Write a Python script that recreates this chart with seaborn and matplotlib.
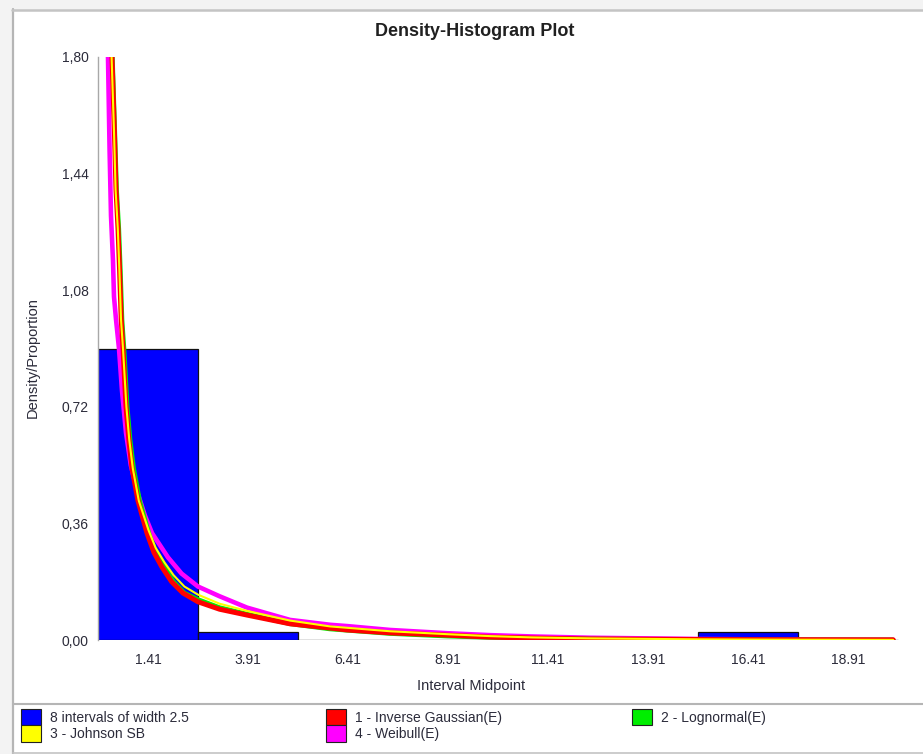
import matplotlib
matplotlib.use("Agg")
import matplotlib.pyplot as plt
from matplotlib.patches import Patch, Rectangle
from matplotlib.lines import Line2D
import seaborn as sns
import numpy as np

# ---------------- data ----------------
bin_edges = [0.16, 2.66, 5.16, 7.66, 10.16, 12.66, 15.16, 17.66, 20.16]
bin_mids = [1.41, 3.91, 6.41, 8.91, 11.41, 13.91, 16.41, 18.91]
bar_heights = [0.90, 0.025, 0.0, 0.0, 0.0, 0.0, 0.025, 0.0]

xtick_vals = [1.41, 3.91, 6.41, 8.91, 11.41, 13.91, 16.41, 18.91]
xtick_labels = ["1.41", "3.91", "6.41", "8.91", "11.41", "13.91", "16.41", "18.91"]
ytick_vals = [0.0, 0.36, 0.72, 1.08, 1.44, 1.80]
ytick_labels = ["0,00", "0,36", "0,72", "1,08", "1,44", "1,80"]

# 1 - Inverse Gaussian(E)
ig_x = [0.51, 0.57, 0.61, 0.66, 0.70, 0.74, 0.785, 0.86, 0.93, 1.01, 1.16, 1.385, 1.56, 1.76, 2.00,
        2.285, 2.66, 3.20, 3.885, 4.96, 5.96, 6.385, 7.46, 8.885, 9.96, 11.0, 12.46, 15.21, 17.5, 20.04]
ig_y = [1.80, 1.57, 1.39, 1.27, 1.14, 0.99, 0.90, 0.72, 0.62, 0.53, 0.43, 0.33, 0.27, 0.225, 0.18,
        0.145, 0.118, 0.095, 0.077, 0.050, 0.037, 0.031, 0.022, 0.015, 0.009, 0.006, 0.003, 0.0015, 0.0008, 0.0004]

# 2 - Lognormal(E)
ln_x = [0.52, 0.58, 0.625, 0.68, 0.72, 0.76, 0.81, 0.89, 0.96, 1.05, 1.20, 1.43, 1.60, 1.82, 2.05,
        2.32, 2.66, 3.20, 3.885, 4.96, 5.96, 7.46, 8.885, 9.96, 11.0, 12.46, 15.21, 17.5, 20.04]
ln_y = [1.80, 1.57, 1.39, 1.27, 1.14, 0.99, 0.90, 0.72, 0.62, 0.53, 0.43, 0.33, 0.27, 0.225, 0.18,
        0.145, 0.125, 0.100, 0.080, 0.050, 0.034, 0.020, 0.012, 0.008, 0.005, 0.003, 0.001, 0.0005, 0.0002]

# 3 - Johnson SB
jsb_x = [0.50, 0.56, 0.60, 0.655, 0.695, 0.735, 0.785, 0.87, 0.94, 1.03, 1.18, 1.42, 1.60, 1.82, 2.05,
         2.32, 2.66, 3.20, 3.885, 4.96, 5.96, 7.46, 8.885, 9.96, 11.0, 12.46, 15.21, 17.5, 20.04]
jsb_y = [1.80, 1.57, 1.39, 1.27, 1.14, 0.99, 0.90, 0.72, 0.62, 0.53, 0.43, 0.34, 0.285, 0.24, 0.20,
         0.165, 0.140, 0.112, 0.090, 0.060, 0.042, 0.027, 0.018, 0.012, 0.008, 0.005, 0.002, 0.001, 0.0004]

# 4 - Weibull(E)
wb_x = [0.41, 0.45, 0.485, 0.535, 0.56, 0.61, 0.685, 0.76, 0.86, 0.98, 1.16, 1.33, 1.51, 1.91, 2.25,
        2.66, 3.20, 3.885, 4.96, 5.96, 6.385, 7.46, 8.885, 9.96, 11.0, 12.46, 15.21, 17.5, 20.04]
wb_y = [1.80, 1.51, 1.31, 1.17, 1.06, 0.99, 0.90, 0.77, 0.64, 0.54, 0.45, 0.385, 0.33, 0.255, 0.205,
        0.165, 0.135, 0.100, 0.062, 0.047, 0.043, 0.031, 0.021, 0.015, 0.011, 0.007, 0.003, 0.0015, 0.0006]

legend_labels = ["8 intervals of width 2.5", "1 - Inverse Gaussian(E)", "2 - Lognormal(E)",
                 "3 - Johnson SB", "4 - Weibull(E)"]

# ---------------- style ----------------
sns.set_style("white")
plt.rcParams["font.family"] = ["Liberation Sans", "DejaVu Sans"]
TXT = "#2b2b3a"
GRAY = "#a8a8a8"

W, H = 923, 754
fig = plt.figure(figsize=(W / 100, H / 100), dpi=100, facecolor="white")

def fx(px):
    return px / W

def fy(py):
    return 1 - py / H

ax_left, ax_right, ax_top, ax_bottom = 98, 899.6, 57, 640
ax = fig.add_axes([fx(ax_left), fy(ax_bottom), fx(ax_right - ax_left), (ax_bottom - ax_top) / H])
ax.set_facecolor("white")

BLUE = "#0000ff"
RED = "#ff0000"
GREEN = "#00ee00"
YELLOW = "#ffff00"
MAGENTA = "#ff00ff"

sns.histplot(x=bin_mids, weights=bar_heights, bins=bin_edges, stat="count",
             color=BLUE, edgecolor="#111111", linewidth=0.9, alpha=1.0, ax=ax)

sns.lineplot(x=wb_x, y=wb_y, color=MAGENTA, linewidth=3.3, estimator=None, sort=False, ax=ax)
sns.lineplot(x=ln_x, y=ln_y, color=GREEN, linewidth=3.3, estimator=None, sort=False, ax=ax)
sns.lineplot(x=ig_x, y=ig_y, color=RED, linewidth=3.6, estimator=None, sort=False, ax=ax)
sns.lineplot(x=jsb_x, y=jsb_y, color=YELLOW, linewidth=1.5, estimator=None, sort=False, ax=ax)

ax.set_xlim(0.16, 20.2)
ax.set_ylim(0, 1.80)
ax.set_xticks(xtick_vals)
ax.set_xticklabels(xtick_labels)
ax.set_yticks(ytick_vals)
ax.set_yticklabels(ytick_labels)
for s in ["top", "right", "bottom"]:
    ax.spines[s].set_visible(False)
ax.spines["left"].set_color(GRAY)
ax.spines["left"].set_linewidth(1.0)
ax.tick_params(axis="x", length=3.2, width=0.8, color=GRAY, labelcolor=TXT, labelsize=10, pad=6)
ax.tick_params(axis="y", length=4.3, width=0.8, color=GRAY, labelcolor=TXT, labelsize=10, pad=2.5)
ax.set_xlabel("")
ax.set_ylabel("")

fig.text(fx(475), fy(31), "Density-Histogram Plot", ha="center", va="center",
         fontsize=13, fontweight="bold", color="#202020")
fig.text(fx(471), fy(686), "Interval Midpoint", ha="center", va="center", fontsize=10.5, color=TXT)
fig.text(fx(33), fy(358), "Density/Proportion", ha="center", va="center", rotation=90,
         fontsize=10.5, color=TXT)

# window chrome
fig.add_artist(Rectangle((0, 0), fx(12), 1, transform=fig.transFigure, color="#f3f3f3", zorder=0))
fig.add_artist(Rectangle((0, fy(9)), 1, 1 - fy(9), transform=fig.transFigure, color="#f3f3f3", zorder=0))
fig.add_artist(Line2D([fx(12.5), fx(12.5)], [fy(9), 0], transform=fig.transFigure, color="#b5b5b5", lw=1.6))
fig.add_artist(Line2D([fx(12), 1], [fy(9.5), fy(9.5)], transform=fig.transFigure, color="#c4c4c4", lw=1.8))
fig.add_artist(Line2D([fx(13), 1], [fy(704), fy(704)], transform=fig.transFigure, color="#b5b5b5", lw=1.5))
fig.add_artist(Line2D([fx(13), 1], [fy(753), fy(753)], transform=fig.transFigure, color="#c4c4c4", lw=1.2))

# legend
def patch(c):
    return Patch(facecolor=c, edgecolor="#222222", linewidth=0.8)

fs = 10
hl = 20 / (fs * 100 / 72)
common = dict(loc="upper left", frameon=False, fontsize=fs, handlelength=hl, handleheight=hl,
              handletextpad=0.65, labelspacing=0.0, borderpad=0, borderaxespad=0,
              labelcolor=TXT)
fig.legend([patch(BLUE), patch(YELLOW)], [legend_labels[0], legend_labels[3]],
           bbox_to_anchor=(fx(21), fy(709)), **common)
fig.legend([patch(RED), patch(MAGENTA)], [legend_labels[1], legend_labels[4]],
           bbox_to_anchor=(fx(326), fy(709)), **common)
fig.legend([patch(GREEN)], [legend_labels[2]],
           bbox_to_anchor=(fx(632), fy(709)), **common)

fig.savefig("out.png", dpi=100, facecolor="white")
